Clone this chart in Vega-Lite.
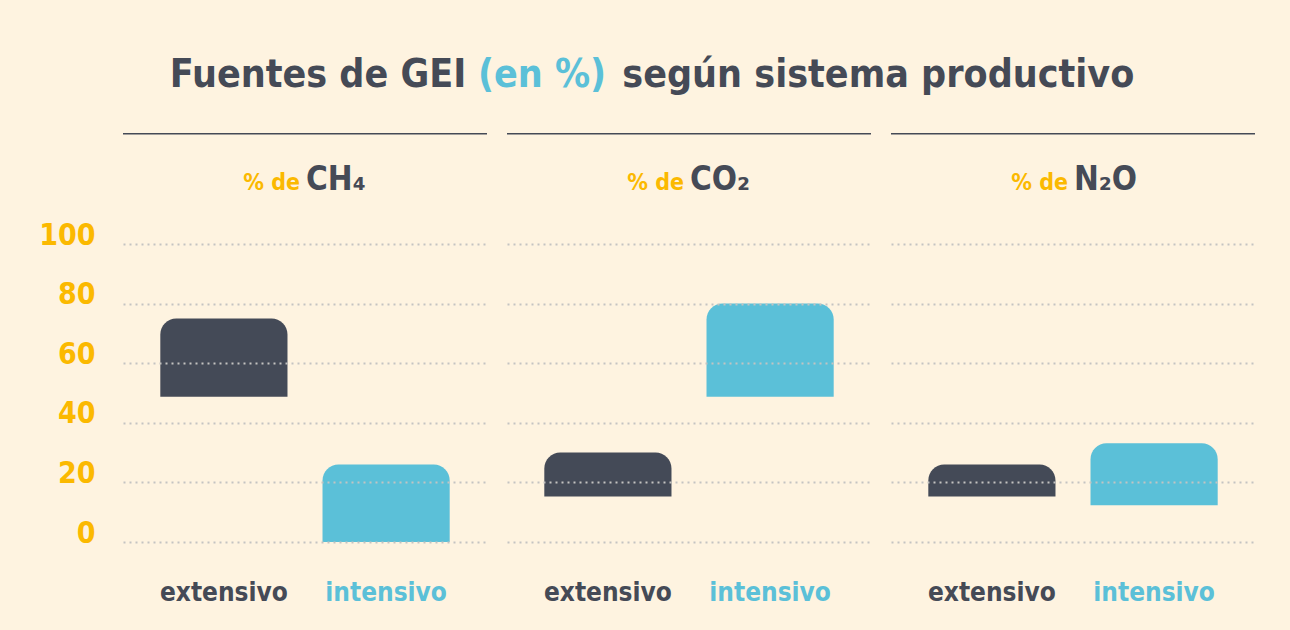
{
  "$schema": "https://vega.github.io/schema/vega-lite/v6.json",
  "background": "#FEF3E0",
  "padding": {"left": 38, "top": 55, "right": 35, "bottom": 28},
  "data": {"values": [
    {"gas": "CH₄", "sistema": "extensivo", "desde": 48.7, "hasta": 75},
    {"gas": "CH₄", "sistema": "intensivo", "desde": 0, "hasta": 26},
    {"gas": "CO₂", "sistema": "extensivo", "desde": 15.3, "hasta": 30},
    {"gas": "CO₂", "sistema": "intensivo", "desde": 48.7, "hasta": 80},
    {"gas": "N₂O", "sistema": "extensivo", "desde": 15.3, "hasta": 26},
    {"gas": "N₂O", "sistema": "intensivo", "desde": 12.3, "hasta": 33.1}
  ]},
  "facet": {"column": {"field": "gas", "type": "nominal", "sort": ["CH₄", "CO₂", "N₂O"], "header": null}},
  "spacing": 20,
  "bounds": "flush",
  "spec": {
    "width": 364,
    "height": 298,
    "layer": [
      {
        "mark": {"type": "bar", "cornerRadiusTopLeft": 16, "cornerRadiusTopRight": 16},
        "encoding": {
          "x": {"field": "sistema", "type": "nominal", "sort": ["extensivo", "intensivo"],
            "scale": {"paddingInner": 0.216, "paddingOuter": 0.23},
            "axis": {"title": null, "domain": false, "ticks": false, "labelAngle": 0, "labelFontSize": 26, "labelFontWeight": "bold",
              "labelFont": "DejaVu Sans Condensed", "labelBaseline": "alphabetic", "labelPadding": 58,
              "labelColor": {"condition": {"test": "datum.value === 'intensivo'", "value": "#5BC0D8"}, "value": "#454A56"}}},
          "y": {"field": "hasta", "type": "quantitative", "scale": {"domain": [0, 100]},
            "axis": {"title": null, "values": [0, 20, 40, 60, 80, 100], "domain": false, "ticks": false, "grid": true,
              "gridDash": [2, 4], "gridColor": "#C4C3C1", "gridWidth": 2,
              "labelFont": "DejaVu Sans Condensed", "labelFontSize": 30, "labelFontWeight": "bold",
              "labelColor": "#FBB900", "labelPadding": 28, "labelBaseline": "alphabetic", "zindex": 1}},
          "y2": {"field": "desde"},
          "color": {"field": "sistema", "type": "nominal", "scale": {"domain": ["extensivo", "intensivo"], "range": ["#444A57", "#5BC0D8"]}, "legend": null}
        }
      },
      {
        "transform": [{"filter": "datum.sistema === 'extensivo'"}],
        "mark": {"type": "rule", "color": "#454A56", "strokeWidth": 1.5},
        "encoding": {"y": {"datum": 137}}
      },
      {
        "transform": [{"filter": "datum.sistema === 'extensivo'"}],
        "mark": {"type": "text", "text": "% de", "align": "right", "baseline": "alphabetic", "dx": -22.5,
          "font": "DejaVu Sans Condensed", "fontSize": 23, "fontWeight": "bold", "color": "#FBB900"},
        "encoding": {"x": {"datum": "intensivo", "bandPosition": 0}, "y": {"datum": 118}}
      },
      {
        "transform": [{"filter": "datum.sistema === 'extensivo'"}],
        "mark": {"type": "text", "align": "left", "baseline": "alphabetic", "dx": -16.5,
          "font": "DejaVu Sans Condensed", "fontSize": 33, "fontWeight": "bold", "color": "#454A56"},
        "encoding": {"x": {"datum": "intensivo", "bandPosition": 0}, "y": {"datum": 118}, "text": {"field": "gas"}}
      },
      {
        "transform": [{"filter": "datum.sistema === 'extensivo' && datum.gas === 'CO₂'"}],
        "mark": {"type": "text", "text": "Fuentes de GEI", "align": "right", "baseline": "alphabetic", "dx": -78,
          "font": "DejaVu Sans Condensed", "fontSize": 39, "fontWeight": "bold", "color": "#454A56"},
        "encoding": {"x": {"datum": "extensivo", "bandPosition": 0}, "y": {"datum": 152.8}}
      },
      {
        "transform": [{"filter": "datum.sistema === 'extensivo' && datum.gas === 'CO₂'"}],
        "mark": {"type": "text", "text": "(en %)", "align": "center", "baseline": "alphabetic", "dx": -2.3,
          "font": "DejaVu Sans Condensed", "fontSize": 39, "fontWeight": "bold", "color": "#5BC0D8"},
        "encoding": {"x": {"datum": "extensivo", "bandPosition": 0}, "y": {"datum": 152.8}}
      },
      {
        "transform": [{"filter": "datum.sistema === 'extensivo' && datum.gas === 'CO₂'"}],
        "mark": {"type": "text", "text": "según sistema productivo", "align": "left", "baseline": "alphabetic", "dx": 78,
          "font": "DejaVu Sans Condensed", "fontSize": 39, "fontWeight": "bold", "color": "#454A56"},
        "encoding": {"x": {"datum": "extensivo", "bandPosition": 0}, "y": {"datum": 152.8}}
      }
    ]
  },
  "config": {"view": {"stroke": null}}
}
